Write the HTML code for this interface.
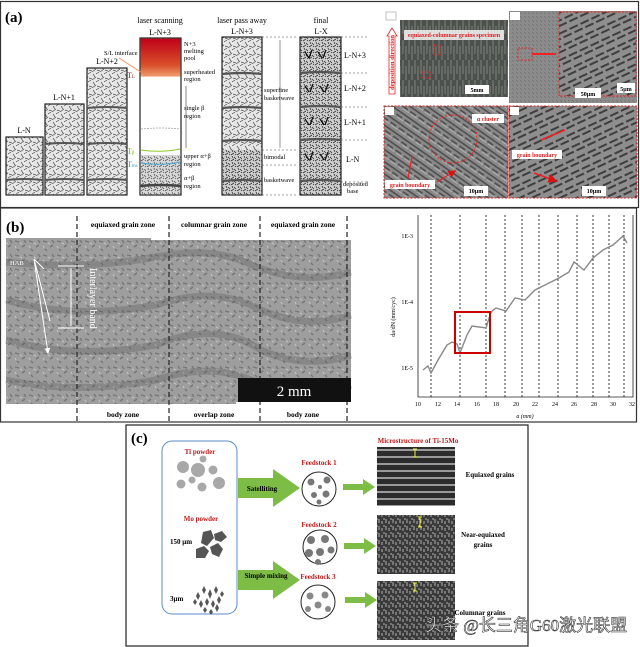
<!DOCTYPE html>
<html><head><meta charset="utf-8"><style>
html,body{margin:0;padding:0;background:#fff}
svg{display:block}
text{font-family:"Liberation Serif",serif}
</style></head><body>
<svg width="640" height="647" viewBox="0 0 640 647" xmlns="http://www.w3.org/2000/svg">
<defs>
<pattern id="scrib" width="8" height="8" patternUnits="userSpaceOnUse">
<rect width="8" height="8" fill="#e6e6e6"/>
<path d="M0 2l3 -2M4 8l4-3M1 6l3 1M5 2l2 3" stroke="#555" stroke-width="0.7"/>
</pattern>
<pattern id="scrib2" width="6" height="6" patternUnits="userSpaceOnUse">
<rect width="6" height="6" fill="#cfcfcf"/>
<path d="M0 1l2 2M3 5l3-2M4 0l1 2M1 5l1-1" stroke="#333" stroke-width="0.8"/>
</pattern>
<pattern id="lath" width="10" height="10" patternUnits="userSpaceOnUse" patternTransform="rotate(35)">
<rect width="10" height="10" fill="#8a8a8a"/>
<path d="M0 2h10M0 6h7" stroke="#4a4a4a" stroke-width="1.6"/>
<path d="M2 8h8" stroke="#bbb" stroke-width="0.8"/>
</pattern>
<pattern id="lath2" width="12" height="12" patternUnits="userSpaceOnUse" patternTransform="rotate(-25)">
<rect width="12" height="12" fill="#8e8e8e"/>
<path d="M0 3h9M3 8h9" stroke="#3e3e3e" stroke-width="2"/>
</pattern>
<pattern id="vert" width="6" height="20" patternUnits="userSpaceOnUse">
<rect width="6" height="20" fill="#4d514d"/>
<path d="M1 0v14M4 6v14" stroke="#8a8e88" stroke-width="0.8"/>
</pattern>
<pattern id="fine" width="4" height="4" patternUnits="userSpaceOnUse">
<rect width="4" height="4" fill="#8c8c8c"/>
<path d="M0 0l2 2" stroke="#6e6e6e" stroke-width="0.7"/>
</pattern>
<pattern id="rough" width="14" height="14" patternUnits="userSpaceOnUse">
<rect width="14" height="14" fill="#9e9e9e"/>
<path d="M1 3l4 1M8 9l3-2M3 11l2 2M10 2l2 3" stroke="#767676" stroke-width="1.4"/>
<path d="M6 5l2 1M1 8l1 2" stroke="#c4c4c4" stroke-width="1"/>
</pattern>
<pattern id="hstripe" width="10" height="7" patternUnits="userSpaceOnUse">
<rect width="10" height="7" fill="#2c2c2c"/>
<path d="M0 2h10" stroke="#c8c8c8" stroke-width="1.4"/>
</pattern>
<pattern id="speck" width="7" height="7" patternUnits="userSpaceOnUse">
<rect width="7" height="7" fill="#3a3a3a"/>
<path d="M1 1v4M4 3v3M6 0v2" stroke="#bdbdbd" stroke-width="0.9"/>
</pattern>
<linearGradient id="red" x1="0" y1="0" x2="0" y2="1">
<stop offset="0" stop-color="#c00018"/><stop offset="0.7" stop-color="#d8502a"/><stop offset="1" stop-color="#f0a070"/>
</linearGradient>
<marker id="ah" markerWidth="6" markerHeight="6" refX="5" refY="3" orient="auto"><path d="M0 0L6 3L0 6z" fill="#e01010"/></marker>
<marker id="wh" markerWidth="6" markerHeight="6" refX="5" refY="3" orient="auto"><path d="M0 0L6 3L0 6z" fill="#fff"/></marker>
</defs>

<!-- Panel a frame -->
<rect x="0.5" y="1.5" width="638" height="206" fill="#fff" stroke="#333" stroke-width="1.2"/>
<text x="5" y="22" font-size="15" font-weight="bold">(a)</text>

<rect x="6" y="137" width="37" height="58" fill="url(#scrib)" stroke="#222" stroke-width="1.2"/>
<rect x="45" y="104" width="39" height="91" fill="url(#scrib)" stroke="#222" stroke-width="1.2"/>
<rect x="87" y="68" width="40" height="127" fill="url(#scrib)" stroke="#222" stroke-width="1.2"/>
<g stroke="#555" stroke-width="2" fill="none">
<path d="M6 180q18 -2 37 0"/><path d="M45 180q20 -2 39 0M45 144q20 -2 39 0"/>
<path d="M87 180q20-2 40 0M87 144q20-2 40 0M87 108q20-2 40 0"/>
</g>
<g font-size="8" text-anchor="middle">
<text x="24" y="133">L-N</text><text x="64" y="100">L-N+1</text><text x="107" y="64">L-N+2</text>
</g>
<rect x="140" y="38" width="41" height="157" fill="#fff" stroke="#222" stroke-width="1.2"/>
<rect x="140.6" y="38.6" width="39.8" height="38" fill="url(#red)"/>
<rect x="140.6" y="155" width="39.8" height="39.4" fill="url(#scrib2)" opacity="0.8"/>
<path d="M140 186q20-2 41 0" stroke="#444" stroke-width="2.5" fill="none"/>
<g stroke="#999" stroke-dasharray="2 1" fill="none" stroke-width="0.7"><path d="M141 129q20-2 39 0M141 170q20-2 39 0"/></g>
<path d="M141 150q20 3 39 -1" stroke="#8c2" stroke-width="1" fill="none"/>
<path d="M141 163q20 3 39 -1" stroke="#4ad" stroke-width="1" fill="none"/>
<text x="160" y="23" font-size="8" text-anchor="middle">laser scanning</text>
<text x="160" y="35" font-size="8" text-anchor="middle">L-N+3</text>
<g font-size="6.5">
<text x="184" y="46">N+3</text><text x="184" y="53">melting</text><text x="184" y="60">pool</text>
<text x="184" y="74">superheated</text><text x="184" y="81">region</text>
<text x="184" y="110">single β</text><text x="184" y="118">region</text>
<text x="184" y="158">upper α+β</text><text x="184" y="166">region</text>
<text x="184" y="180">α+β</text><text x="184" y="188">region</text>
<text x="104" y="55">S/L interface</text>
</g>
<text x="127" y="78" font-size="8" fill="#922">T<tspan font-size="5">L</tspan></text>
<text x="127" y="154" font-size="8" fill="#7b2">T<tspan font-size="5">β</tspan></text>
<text x="127" y="167" font-size="8" fill="#39c">T<tspan font-size="5">ms</tspan></text>
<path d="M119 58l28 18" stroke="#e85" stroke-width="0.8"/>
<path d="M186 86v62" stroke="#333" stroke-width="0.6"/>

<rect x="222" y="37" width="40" height="158" fill="url(#scrib)" stroke="#222" stroke-width="1.2"/>
<rect x="222.6" y="150" width="38.8" height="44.4" fill="url(#scrib2)"/>
<g stroke="#555" stroke-width="2.2" fill="none"><path d="M222 74q20-2 40 0M222 108q20-2 40 0M222 141q20-2 40 0M222 181q20-2 40 0"/></g>
<text x="242" y="23" font-size="8" text-anchor="middle">laser pass away</text>
<text x="242" y="34" font-size="8" text-anchor="middle">L-N+3</text>
<g stroke="#444" stroke-dasharray="2 2" stroke-width="0.6"><path d="M262 37h36M262 150h36M262 165h36M262 195h36"/></g>
<path d="M280 40v108" stroke="#333" stroke-width="0.5"/>
<g font-size="6.5"><text x="264" y="92">superfine</text><text x="264" y="100">basketwave</text><text x="264" y="159">bimodal</text><text x="264" y="182">basketwave</text></g>

<rect x="300" y="37" width="41" height="158" fill="url(#scrib2)" stroke="#222" stroke-width="1.2"/>
<g stroke="#555" stroke-width="2.2" fill="none"><path d="M300 73q20-2 41 0M300 107q20-2 41 0M300 140q20-2 41 0M300 181q20-2 41 0"/></g>
<g stroke="#111" stroke-width="1.3"><path d="M305 52l4 6M312 50l-3 8M318 52l4 6M326 50l-3 8M305 86l4 6M313 84l-3 8M320 86l4 6M328 84l-3 8M305 119l4 6M313 117l-3 8M320 119l4 6M328 117l-3 8M305 154l4 6M313 152l-3 8M320 154l4 6M328 152l-3 8"/></g>
<text x="321" y="23" font-size="8" text-anchor="middle">final</text>
<text x="321" y="34" font-size="8" text-anchor="middle">L-X</text>
<g stroke="#444" stroke-dasharray="2 2" stroke-width="0.6"><path d="M341 37h27M341 73h27M341 107h27M341 140h27M341 182h27"/></g>
<g font-size="8"><text x="344" y="58">L-N+3</text><text x="344" y="91">L-N+2</text><text x="344" y="125">L-N+1</text><text x="346" y="162">L-N</text></g>
<g font-size="6.5"><text x="343" y="186">deposited</text><text x="347" y="193">base</text></g>

<rect x="400" y="20" width="108" height="77" fill="url(#vert)"/>
<rect x="404" y="30" width="100" height="10" fill="#fff" opacity="0.8"/>
<text x="454" y="37" font-size="6" text-anchor="middle" fill="#e02020" font-weight="bold">equiaxed-columnar grains specimen</text>
<rect x="434" y="45" width="6" height="10" fill="none" stroke="#e22" stroke-dasharray="1.5 1"/>
<rect x="422" y="72" width="8" height="6" fill="none" stroke="#e22" stroke-dasharray="1.5 1"/>
<rect x="465" y="85" width="24" height="9" fill="#fff"/><text x="477" y="92" font-size="6" text-anchor="middle" font-weight="bold">5mm</text>
<path d="M387 36l5-8 5 8h-2v58h-6v-58z" fill="#fff" stroke="#e22" stroke-width="0.8"/>
<text transform="translate(394 90) rotate(-90)" font-size="6.5" fill="#e02020" font-weight="bold">deposition direction</text>
<rect x="386" y="12" width="10" height="8" fill="#fff" stroke="#888" stroke-width="0.5"/>

<rect x="509" y="11" width="128" height="92" fill="url(#fine)"/>
<rect x="559" y="12" width="77" height="84" fill="url(#lath2)" stroke="#e22" stroke-dasharray="2 1.5"/>
<rect x="518" y="48" width="14" height="12" fill="none" stroke="#e22" stroke-dasharray="2 1.5"/>
<path d="M532 54h24" stroke="#e22" stroke-width="2"/>
<rect x="617" y="83" width="18" height="10" fill="#fff"/><text x="626" y="91" font-size="6" text-anchor="middle" font-weight="bold">5μm</text>
<rect x="575" y="88" width="26" height="10" fill="#fff"/><text x="588" y="96" font-size="6" text-anchor="middle" font-weight="bold">50μm</text>
<rect x="510" y="12" width="10" height="8" fill="#fff"/>

<rect x="384" y="106" width="124" height="92" fill="url(#lath)" stroke="#e22" stroke-dasharray="2 1.5"/>
<circle cx="453" cy="139" r="24" fill="none" stroke="#e22" stroke-dasharray="2 1.5"/>
<rect x="472" y="114" width="32" height="9" fill="#fff"/><text x="488" y="121" font-size="6" text-anchor="middle" fill="#e02020" font-weight="bold">α cluster</text>
<rect x="385" y="180" width="50" height="9" fill="#fff"/><text x="410" y="187" font-size="6" text-anchor="middle" fill="#e02020" font-weight="bold">grain boundary</text>
<path d="M408 178l4-21M437 182l18-11" stroke="#e22" stroke-width="1.3" marker-end="url(#ah)"/>
<rect x="464" y="186" width="24" height="10" fill="#fff"/><text x="476" y="193" font-size="6" text-anchor="middle" font-weight="bold">10μm</text>
<rect x="385" y="107" width="9" height="8" fill="#fff"/>

<rect x="509" y="106" width="128" height="92" fill="url(#lath2)" stroke="#e22" stroke-dasharray="2 1.5"/>
<rect x="512" y="150" width="50" height="9" fill="#fff"/><text x="537" y="157" font-size="6" text-anchor="middle" fill="#e02020" font-weight="bold">grain boundary</text>
<path d="M541 140l24-10M534 173l22 8" stroke="#e22" stroke-width="1.5" marker-end="url(#ah)"/>
<rect x="582" y="186" width="24" height="10" fill="#fff"/><text x="594" y="193" font-size="6" text-anchor="middle" font-weight="bold">10μm</text>
<rect x="510" y="107" width="9" height="8" fill="#fff"/>

<!-- Panel b -->
<rect x="0.5" y="208" width="636" height="214" fill="#fff" stroke="#333" stroke-width="1.2"/>
<text x="6" y="232" font-size="15" font-weight="bold">(b)</text>
<path d="M6 238h145v2h200v162h-115v2h-230z" fill="url(#rough)"/>
<g stroke="#555" stroke-width="7" fill="none" opacity="0.3">
<path d="M6 262q80 8 150 -5q60 -12 100 10q50 18 95 5"/>
<path d="M6 300q70 20 150 5q60-20 105 5q45 20 90 5"/>
<path d="M6 340q70 20 150 5q60-25 105 5q45 20 90 5"/>
<path d="M6 380q70 15 150 0q60-20 105 5q45 15 90 0"/>
</g>
<g stroke="#222" stroke-width="1.2" stroke-dasharray="5 3"><path d="M77 216v208M169 216v208M260 216v208M347 216v208"/></g>
<g font-size="7.5" font-weight="bold" text-anchor="middle">
<text x="123" y="227">equiaxed grain zone</text><text x="214" y="227">columnar grain zone</text><text x="303" y="227">equiaxed grain zone</text>
<text x="123" y="417">body zone</text><text x="214" y="417">overlap zone</text><text x="303" y="417">body zone</text>
</g>
<rect x="238" y="378" width="113" height="24" fill="#111"/>
<text x="294" y="396" font-size="15" fill="#fff" text-anchor="middle" font-family="Liberation Sans,sans-serif">2 mm</text>
<text x="10" y="265" font-size="6.5" fill="#fff">HAB</text>
<g stroke="#fff" stroke-width="1" fill="none">
<path d="M34 259l10 10M34 259l16 62M34 259l14 94" marker-end="url(#wh)"/>
<path d="M58 266h26M58 328h26M71 268v58"/>
</g>
<text transform="translate(90 268) rotate(90)" font-size="10" fill="#fff">Interlayer band</text>

<!-- chart -->
<g stroke="#222" stroke-width="0.8" fill="none">
<path d="M418 215v182h215v-182"/>
</g>
<g stroke="#222" stroke-width="0.9" stroke-dasharray="2 2">
<path d="M431 215v182M460 215v182M486 215v182M505 215v182M522 215v182M539 215v182M558 215v182M577 215v182M593 215v182M609 215v182M624 215v182"/>
</g>
<path d="M423 370L428 366L431 373L438 360L447 345L452 342L457 344L460 353L467 335L472 326L486 328L491 312L496 308L506 311L515 298L525 300L535 290L545 285L559 278L569 272L574 262L584 270L593 258L603 250L613 245L623 236L627 243" stroke="#888" stroke-width="1.4" fill="none"/>
<rect x="455" y="312" width="35" height="41" fill="none" stroke="#c00" stroke-width="2"/>
<g font-size="6" font-family="Liberation Sans,sans-serif" text-anchor="end">
<text x="413" y="238">1E-3</text><text x="413" y="304">1E-4</text><text x="413" y="370">1E-5</text>
</g>
<g font-size="6" font-family="Liberation Sans,sans-serif" text-anchor="middle">
<text x="418" y="406">10</text><text x="438" y="406">12</text><text x="457" y="406">14</text><text x="477" y="406">16</text><text x="496" y="406">18</text><text x="516" y="406">20</text><text x="535" y="406">22</text><text x="555" y="406">24</text><text x="574" y="406">26</text><text x="594" y="406">28</text><text x="613" y="406">30</text><text x="632" y="406">32</text>
<text x="525" y="418" font-style="italic">a (mm)</text>
</g>
<text transform="translate(395 317) rotate(-90)" font-size="6" font-family="Liberation Sans,sans-serif" text-anchor="middle">da/dN (mm/cyc)</text>

<!-- Panel c -->
<rect x="126" y="425" width="402" height="221" fill="#fff" stroke="#222" stroke-width="1.2"/>
<text x="131" y="443" font-size="15" font-weight="bold">(c)</text>
<rect x="162" y="441" width="75" height="173" rx="10" fill="#fff" stroke="#5b8ac8" stroke-width="1"/>
<g font-weight="bold" font-size="7" fill="#c01818" text-anchor="middle">
<text x="200" y="454">Ti powder</text><text x="201" y="521">Mo powder</text>
<text x="319" y="465">Feedstock 1</text><text x="319" y="527">Feedstock 2</text><text x="318" y="579">Feedstock 3</text>
<text x="418" y="443">Microstructure of Ti-15Mo</text>
</g>
<g fill="#a8a8a8">
<circle cx="183" cy="467" r="6"/><circle cx="198" cy="470" r="7"/><circle cx="203" cy="459" r="3.5"/><circle cx="213" cy="470" r="4.5"/><circle cx="192" cy="480" r="3.5"/><circle cx="181" cy="484" r="4.5"/><circle cx="202" cy="487" r="4.5"/><circle cx="219" cy="483" r="6"/>
</g>
<g fill="#555">
<path d="M203 532l8-2 3 8-7 8-6-3z"/><path d="M214 534l8-3 5 6-6 5-6-2z"/><path d="M196 549l8-3 5 5-4 7-9 0z"/><path d="M210 547l8-4 5 6-4 8-7-3z"/>
</g>
<g fill="#555"><path d="M196 596l2-4 2 4-2 4zM202 590l2-4 2 4-2 4zM208 594l2-5 2 5-2 5zM214 590l2-4 2 4-2 4zM199 604l2-4 2 4-2 4zM205 602l2-4 2 4-2 4zM211 604l2-4 2 4-2 4zM217 600l2-4 2 4-2 4zM203 610l2-3 2 3-2 3zM209 612l2-3 2 3-2 3zM215 608l2-4 2 4-2 4zM220 594l2-3 2 3-2 3zM193 602l2-3 2 3-2 3z"/></g>
<g font-size="7" font-weight="bold"><text x="170" y="544">150 μm</text><text x="170" y="601">3μm</text></g>
<path d="M238 478h35v-9l27 19-27 19v-9h-35z" fill="#7dbd45"/>
<path d="M238 570h35v-9l27 19-27 19v-9h-35z" fill="#7dbd45"/>
<g font-size="7" font-weight="bold" text-anchor="middle"><text x="262" y="491">Satelliting</text><text x="266" y="578">Simple mixing</text></g>
<g fill="#7dbd45">
<path d="M343 484h20v-5l12 8-12 8v-5h-20z"/><path d="M344 543h20v-5l12 8-12 8v-5h-20z"/><path d="M345 597h20v-5l12 8-12 8v-5h-20z"/>
</g>
<g fill="#fff" stroke="#222" stroke-width="1"><circle cx="319" cy="489" r="17"/><circle cx="320" cy="547" r="17"/><circle cx="318" cy="602" r="17"/></g>
<g fill="#777"><circle cx="311" cy="482" r="3.5"/><circle cx="327" cy="480" r="3.5"/><circle cx="314" cy="495" r="3"/><circle cx="326" cy="494" r="3.5"/><circle cx="319" cy="502" r="2.5"/><circle cx="320" cy="487" r="2"/></g>
<g fill="#777"><circle cx="311" cy="540" r="4"/><circle cx="325" cy="539" r="4"/><circle cx="309" cy="553" r="4"/><circle cx="320" cy="552" r="4"/><circle cx="331" cy="550" r="3.5"/><circle cx="318" cy="562" r="3"/></g>
<g fill="#888"><circle cx="310" cy="596" r="3.5"/><circle cx="325" cy="595" r="3.5"/><circle cx="318" cy="605" r="3.5"/><circle cx="308" cy="609" r="3"/><circle cx="328" cy="609" r="3"/></g>
<rect x="377" y="447" width="78" height="59" fill="url(#hstripe)"/>
<rect x="377" y="515" width="78" height="59" fill="url(#speck)"/>
<rect x="377" y="581" width="78" height="59" fill="url(#speck)"/>
<g stroke="#ee3" stroke-width="1"><path d="M415 449v8M413 449h4M413 457h4M420 517v10M418 517h4M418 527h4M415 583v8M413 583h4M413 591h4"/></g>
<g font-size="7" font-weight="bold" text-anchor="middle">
<text x="490" y="477">Equiaxed grains</text><text x="483" y="537">Near-equiaxed</text><text x="483" y="547">grains</text><text x="480" y="615">Columnar grains</text>
</g>
<text x="425" y="631" font-size="17" fill="#fff" stroke="#333" stroke-width="0.6" font-family="Liberation Sans,'Noto Sans CJK SC',sans-serif">头条 @长三角G60激光联盟</text>
</svg>
</body></html>
